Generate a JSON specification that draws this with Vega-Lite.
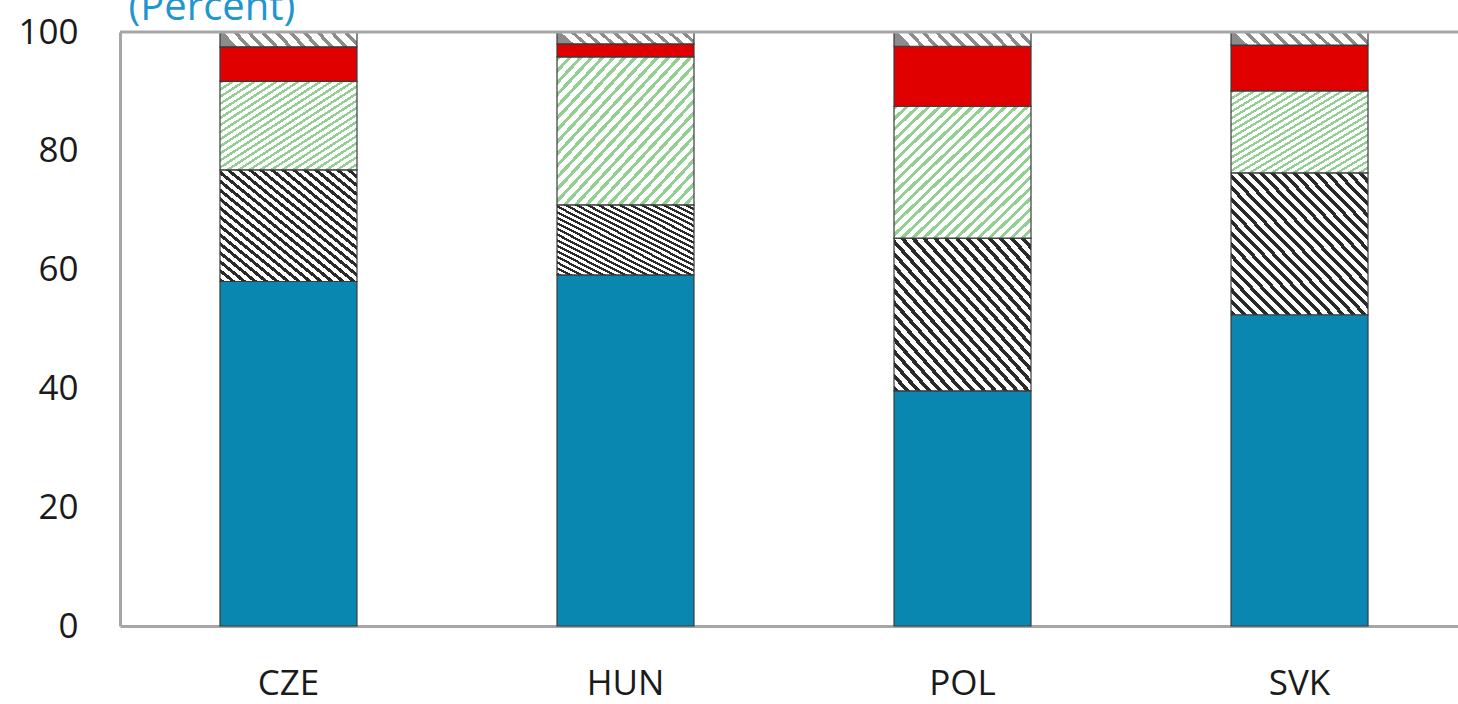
{
  "$schema": "https://vega.github.io/schema/vega-lite/v6.json",
  "width": 1338,
  "height": 594,
  "autosize": "none",
  "padding": {"left": 120, "top": 32, "right": 0, "bottom": 78},
  "background": "white",
  "config": {"view": {"stroke": null}, "font": "Open Sans"},
  "layer": [
    {
      "data": {
        "values": [
          {"country": "CZE", "cat": "A", "order": 1, "value": 58.0},
          {"country": "CZE", "cat": "B", "order": 2, "value": 18.8},
          {"country": "CZE", "cat": "C", "order": 3, "value": 14.9},
          {"country": "CZE", "cat": "D", "order": 4, "value": 5.8},
          {"country": "CZE", "cat": "E", "order": 5, "value": 2.5},
          {"country": "HUN", "cat": "A", "order": 1, "value": 59.1},
          {"country": "HUN", "cat": "B", "order": 2, "value": 11.8},
          {"country": "HUN", "cat": "C", "order": 3, "value": 24.9},
          {"country": "HUN", "cat": "D", "order": 4, "value": 2.2},
          {"country": "HUN", "cat": "E", "order": 5, "value": 2.0},
          {"country": "POL", "cat": "A", "order": 1, "value": 39.6},
          {"country": "POL", "cat": "B", "order": 2, "value": 25.7},
          {"country": "POL", "cat": "C", "order": 3, "value": 22.2},
          {"country": "POL", "cat": "D", "order": 4, "value": 10.1},
          {"country": "POL", "cat": "E", "order": 5, "value": 2.4},
          {"country": "SVK", "cat": "A", "order": 1, "value": 52.4},
          {"country": "SVK", "cat": "B", "order": 2, "value": 23.9},
          {"country": "SVK", "cat": "C", "order": 3, "value": 13.8},
          {"country": "SVK", "cat": "D", "order": 4, "value": 7.7},
          {"country": "SVK", "cat": "E", "order": 5, "value": 2.2}
        ]
      },
      "transform": [
        {"stack": "value", "groupby": ["country"], "sort": [{"field": "order", "order": "ascending"}], "as": ["y0", "y1"]}
      ],
      "encoding": {
        "x": {
          "field": "country", "type": "nominal", "sort": ["CZE", "HUN", "POL", "SVK"],
          "scale": {"range": [0, 1348], "paddingInner": 0.5935, "paddingOuter": 0.2967},
          "axis": {"title": null, "labelAngle": 0, "ticks": false, "labelFontSize": 35, "labelFont": "Open Sans", "labelColor": "#1a1a1a", "labelPadding": 40, "domainColor": "#a6a6a6", "domainWidth": 3}
        },
        "y": {
          "field": "y1", "type": "quantitative",
          "scale": {"domain": [0, 100], "nice": false},
          "axis": {"title": "(Percent)", "titleAngle": 0, "titleX": 8, "titleY": -13, "titleAlign": "left", "titleBaseline": "alphabetic", "titleColor": "#1f95d2", "titleFontSize": 40, "titleFontWeight": "normal", "titleFont": "Open Sans", "values": [0, 20, 40, 60, 80, 100], "ticks": false, "grid": false, "labelFontSize": 35, "labelFont": "Open Sans", "labelColor": "#1a1a1a", "labelPadding": 42, "domainColor": "#a6a6a6", "domainWidth": 3}
        },
        "y2": {"field": "y0"}
      },
      "layer": [
        {
          "transform": [{"filter": "datum.order == 1"}],
          "mark": {"type": "bar", "fill": "#0a87b1", "stroke": "#3a3a3a", "strokeWidth": 1.2}
        },
        {
          "transform": [{"filter": "datum.order == 2"}],
          "mark": {"type": "bar", "stroke": "#3a3a3a", "strokeWidth": 1.2,
            "fill": {"gradient": "linear", "x1": 0, "y1": 1, "x2": 1, "y2": 0, "stops": [
              {"offset": 0, "color": "#2a2a2a"}, {"offset": 0.018, "color": "#2a2a2a"}, {"offset": 0.018, "color": "#ffffff"}, {"offset": 0.04, "color": "#ffffff"},
              {"offset": 0.04, "color": "#2a2a2a"}, {"offset": 0.058, "color": "#2a2a2a"}, {"offset": 0.058, "color": "#ffffff"}, {"offset": 0.08, "color": "#ffffff"},
              {"offset": 0.08, "color": "#2a2a2a"}, {"offset": 0.098, "color": "#2a2a2a"}, {"offset": 0.098, "color": "#ffffff"}, {"offset": 0.12, "color": "#ffffff"},
              {"offset": 0.12, "color": "#2a2a2a"}, {"offset": 0.138, "color": "#2a2a2a"}, {"offset": 0.138, "color": "#ffffff"}, {"offset": 0.16, "color": "#ffffff"},
              {"offset": 0.16, "color": "#2a2a2a"}, {"offset": 0.178, "color": "#2a2a2a"}, {"offset": 0.178, "color": "#ffffff"}, {"offset": 0.2, "color": "#ffffff"},
              {"offset": 0.2, "color": "#2a2a2a"}, {"offset": 0.218, "color": "#2a2a2a"}, {"offset": 0.218, "color": "#ffffff"}, {"offset": 0.24, "color": "#ffffff"},
              {"offset": 0.24, "color": "#2a2a2a"}, {"offset": 0.258, "color": "#2a2a2a"}, {"offset": 0.258, "color": "#ffffff"}, {"offset": 0.28, "color": "#ffffff"},
              {"offset": 0.28, "color": "#2a2a2a"}, {"offset": 0.298, "color": "#2a2a2a"}, {"offset": 0.298, "color": "#ffffff"}, {"offset": 0.32, "color": "#ffffff"},
              {"offset": 0.32, "color": "#2a2a2a"}, {"offset": 0.338, "color": "#2a2a2a"}, {"offset": 0.338, "color": "#ffffff"}, {"offset": 0.36, "color": "#ffffff"},
              {"offset": 0.36, "color": "#2a2a2a"}, {"offset": 0.378, "color": "#2a2a2a"}, {"offset": 0.378, "color": "#ffffff"}, {"offset": 0.4, "color": "#ffffff"},
              {"offset": 0.4, "color": "#2a2a2a"}, {"offset": 0.418, "color": "#2a2a2a"}, {"offset": 0.418, "color": "#ffffff"}, {"offset": 0.44, "color": "#ffffff"},
              {"offset": 0.44, "color": "#2a2a2a"}, {"offset": 0.458, "color": "#2a2a2a"}, {"offset": 0.458, "color": "#ffffff"}, {"offset": 0.48, "color": "#ffffff"},
              {"offset": 0.48, "color": "#2a2a2a"}, {"offset": 0.498, "color": "#2a2a2a"}, {"offset": 0.498, "color": "#ffffff"}, {"offset": 0.52, "color": "#ffffff"},
              {"offset": 0.52, "color": "#2a2a2a"}, {"offset": 0.538, "color": "#2a2a2a"}, {"offset": 0.538, "color": "#ffffff"}, {"offset": 0.56, "color": "#ffffff"},
              {"offset": 0.56, "color": "#2a2a2a"}, {"offset": 0.578, "color": "#2a2a2a"}, {"offset": 0.578, "color": "#ffffff"}, {"offset": 0.6, "color": "#ffffff"},
              {"offset": 0.6, "color": "#2a2a2a"}, {"offset": 0.618, "color": "#2a2a2a"}, {"offset": 0.618, "color": "#ffffff"}, {"offset": 0.64, "color": "#ffffff"},
              {"offset": 0.64, "color": "#2a2a2a"}, {"offset": 0.658, "color": "#2a2a2a"}, {"offset": 0.658, "color": "#ffffff"}, {"offset": 0.68, "color": "#ffffff"},
              {"offset": 0.68, "color": "#2a2a2a"}, {"offset": 0.698, "color": "#2a2a2a"}, {"offset": 0.698, "color": "#ffffff"}, {"offset": 0.72, "color": "#ffffff"},
              {"offset": 0.72, "color": "#2a2a2a"}, {"offset": 0.738, "color": "#2a2a2a"}, {"offset": 0.738, "color": "#ffffff"}, {"offset": 0.76, "color": "#ffffff"},
              {"offset": 0.76, "color": "#2a2a2a"}, {"offset": 0.778, "color": "#2a2a2a"}, {"offset": 0.778, "color": "#ffffff"}, {"offset": 0.8, "color": "#ffffff"},
              {"offset": 0.8, "color": "#2a2a2a"}, {"offset": 0.818, "color": "#2a2a2a"}, {"offset": 0.818, "color": "#ffffff"}, {"offset": 0.84, "color": "#ffffff"},
              {"offset": 0.84, "color": "#2a2a2a"}, {"offset": 0.858, "color": "#2a2a2a"}, {"offset": 0.858, "color": "#ffffff"}, {"offset": 0.88, "color": "#ffffff"},
              {"offset": 0.88, "color": "#2a2a2a"}, {"offset": 0.898, "color": "#2a2a2a"}, {"offset": 0.898, "color": "#ffffff"}, {"offset": 0.92, "color": "#ffffff"},
              {"offset": 0.92, "color": "#2a2a2a"}, {"offset": 0.938, "color": "#2a2a2a"}, {"offset": 0.938, "color": "#ffffff"}, {"offset": 0.96, "color": "#ffffff"},
              {"offset": 0.96, "color": "#2a2a2a"}, {"offset": 0.978, "color": "#2a2a2a"}, {"offset": 0.978, "color": "#ffffff"}, {"offset": 1, "color": "#ffffff"}
            ]}
          }
        },
        {
          "transform": [{"filter": "datum.order == 3"}],
          "mark": {"type": "bar", "stroke": "#3a3a3a", "strokeWidth": 1.2,
            "fill": {"gradient": "linear", "x1": 0, "y1": 0, "x2": 1, "y2": 1, "stops": [
              {"offset": 0, "color": "#93cf93"}, {"offset": 0.016, "color": "#93cf93"}, {"offset": 0.016, "color": "#ffffff"}, {"offset": 0.04, "color": "#ffffff"},
              {"offset": 0.04, "color": "#93cf93"}, {"offset": 0.056, "color": "#93cf93"}, {"offset": 0.056, "color": "#ffffff"}, {"offset": 0.08, "color": "#ffffff"},
              {"offset": 0.08, "color": "#93cf93"}, {"offset": 0.096, "color": "#93cf93"}, {"offset": 0.096, "color": "#ffffff"}, {"offset": 0.12, "color": "#ffffff"},
              {"offset": 0.12, "color": "#93cf93"}, {"offset": 0.136, "color": "#93cf93"}, {"offset": 0.136, "color": "#ffffff"}, {"offset": 0.16, "color": "#ffffff"},
              {"offset": 0.16, "color": "#93cf93"}, {"offset": 0.176, "color": "#93cf93"}, {"offset": 0.176, "color": "#ffffff"}, {"offset": 0.2, "color": "#ffffff"},
              {"offset": 0.2, "color": "#93cf93"}, {"offset": 0.216, "color": "#93cf93"}, {"offset": 0.216, "color": "#ffffff"}, {"offset": 0.24, "color": "#ffffff"},
              {"offset": 0.24, "color": "#93cf93"}, {"offset": 0.256, "color": "#93cf93"}, {"offset": 0.256, "color": "#ffffff"}, {"offset": 0.28, "color": "#ffffff"},
              {"offset": 0.28, "color": "#93cf93"}, {"offset": 0.296, "color": "#93cf93"}, {"offset": 0.296, "color": "#ffffff"}, {"offset": 0.32, "color": "#ffffff"},
              {"offset": 0.32, "color": "#93cf93"}, {"offset": 0.336, "color": "#93cf93"}, {"offset": 0.336, "color": "#ffffff"}, {"offset": 0.36, "color": "#ffffff"},
              {"offset": 0.36, "color": "#93cf93"}, {"offset": 0.376, "color": "#93cf93"}, {"offset": 0.376, "color": "#ffffff"}, {"offset": 0.4, "color": "#ffffff"},
              {"offset": 0.4, "color": "#93cf93"}, {"offset": 0.416, "color": "#93cf93"}, {"offset": 0.416, "color": "#ffffff"}, {"offset": 0.44, "color": "#ffffff"},
              {"offset": 0.44, "color": "#93cf93"}, {"offset": 0.456, "color": "#93cf93"}, {"offset": 0.456, "color": "#ffffff"}, {"offset": 0.48, "color": "#ffffff"},
              {"offset": 0.48, "color": "#93cf93"}, {"offset": 0.496, "color": "#93cf93"}, {"offset": 0.496, "color": "#ffffff"}, {"offset": 0.52, "color": "#ffffff"},
              {"offset": 0.52, "color": "#93cf93"}, {"offset": 0.536, "color": "#93cf93"}, {"offset": 0.536, "color": "#ffffff"}, {"offset": 0.56, "color": "#ffffff"},
              {"offset": 0.56, "color": "#93cf93"}, {"offset": 0.576, "color": "#93cf93"}, {"offset": 0.576, "color": "#ffffff"}, {"offset": 0.6, "color": "#ffffff"},
              {"offset": 0.6, "color": "#93cf93"}, {"offset": 0.616, "color": "#93cf93"}, {"offset": 0.616, "color": "#ffffff"}, {"offset": 0.64, "color": "#ffffff"},
              {"offset": 0.64, "color": "#93cf93"}, {"offset": 0.656, "color": "#93cf93"}, {"offset": 0.656, "color": "#ffffff"}, {"offset": 0.68, "color": "#ffffff"},
              {"offset": 0.68, "color": "#93cf93"}, {"offset": 0.696, "color": "#93cf93"}, {"offset": 0.696, "color": "#ffffff"}, {"offset": 0.72, "color": "#ffffff"},
              {"offset": 0.72, "color": "#93cf93"}, {"offset": 0.736, "color": "#93cf93"}, {"offset": 0.736, "color": "#ffffff"}, {"offset": 0.76, "color": "#ffffff"},
              {"offset": 0.76, "color": "#93cf93"}, {"offset": 0.776, "color": "#93cf93"}, {"offset": 0.776, "color": "#ffffff"}, {"offset": 0.8, "color": "#ffffff"},
              {"offset": 0.8, "color": "#93cf93"}, {"offset": 0.816, "color": "#93cf93"}, {"offset": 0.816, "color": "#ffffff"}, {"offset": 0.84, "color": "#ffffff"},
              {"offset": 0.84, "color": "#93cf93"}, {"offset": 0.856, "color": "#93cf93"}, {"offset": 0.856, "color": "#ffffff"}, {"offset": 0.88, "color": "#ffffff"},
              {"offset": 0.88, "color": "#93cf93"}, {"offset": 0.896, "color": "#93cf93"}, {"offset": 0.896, "color": "#ffffff"}, {"offset": 0.92, "color": "#ffffff"},
              {"offset": 0.92, "color": "#93cf93"}, {"offset": 0.936, "color": "#93cf93"}, {"offset": 0.936, "color": "#ffffff"}, {"offset": 0.96, "color": "#ffffff"},
              {"offset": 0.96, "color": "#93cf93"}, {"offset": 0.976, "color": "#93cf93"}, {"offset": 0.976, "color": "#ffffff"}, {"offset": 1, "color": "#ffffff"}
            ]}
          }
        },
        {
          "transform": [{"filter": "datum.order == 4"}],
          "mark": {"type": "bar", "fill": "#e00000", "stroke": "#3a3a3a", "strokeWidth": 1.2}
        },
        {
          "transform": [{"filter": "datum.order == 5"}],
          "mark": {"type": "bar", "stroke": "#3a3a3a", "strokeWidth": 1.2,
            "fill": {"gradient": "linear", "x1": 0, "y1": 0.1, "x2": 1, "y2": 0, "stops": [
              {"offset": 0, "color": "#8c8c8c"}, {"offset": 0.035, "color": "#8c8c8c"}, {"offset": 0.035, "color": "#ffffff"}, {"offset": 0.1, "color": "#ffffff"},
              {"offset": 0.1, "color": "#8c8c8c"}, {"offset": 0.135, "color": "#8c8c8c"}, {"offset": 0.135, "color": "#ffffff"}, {"offset": 0.2, "color": "#ffffff"},
              {"offset": 0.2, "color": "#8c8c8c"}, {"offset": 0.235, "color": "#8c8c8c"}, {"offset": 0.235, "color": "#ffffff"}, {"offset": 0.3, "color": "#ffffff"},
              {"offset": 0.3, "color": "#8c8c8c"}, {"offset": 0.335, "color": "#8c8c8c"}, {"offset": 0.335, "color": "#ffffff"}, {"offset": 0.4, "color": "#ffffff"},
              {"offset": 0.4, "color": "#8c8c8c"}, {"offset": 0.435, "color": "#8c8c8c"}, {"offset": 0.435, "color": "#ffffff"}, {"offset": 0.5, "color": "#ffffff"},
              {"offset": 0.5, "color": "#8c8c8c"}, {"offset": 0.535, "color": "#8c8c8c"}, {"offset": 0.535, "color": "#ffffff"}, {"offset": 0.6, "color": "#ffffff"},
              {"offset": 0.6, "color": "#8c8c8c"}, {"offset": 0.635, "color": "#8c8c8c"}, {"offset": 0.635, "color": "#ffffff"}, {"offset": 0.7, "color": "#ffffff"},
              {"offset": 0.7, "color": "#8c8c8c"}, {"offset": 0.735, "color": "#8c8c8c"}, {"offset": 0.735, "color": "#ffffff"}, {"offset": 0.8, "color": "#ffffff"},
              {"offset": 0.8, "color": "#8c8c8c"}, {"offset": 0.835, "color": "#8c8c8c"}, {"offset": 0.835, "color": "#ffffff"}, {"offset": 0.9, "color": "#ffffff"},
              {"offset": 0.9, "color": "#8c8c8c"}, {"offset": 0.935, "color": "#8c8c8c"}, {"offset": 0.935, "color": "#ffffff"}, {"offset": 1, "color": "#ffffff"}
            ]}
          }
        }
      ]
    },
    {
      "data": {"values": [{"top": 100}]},
      "mark": {"type": "rule", "color": "#a6a6a6", "strokeWidth": 3},
      "encoding": {"y": {"field": "top", "type": "quantitative", "title": "(Percent)"}}
    }
  ]
}
